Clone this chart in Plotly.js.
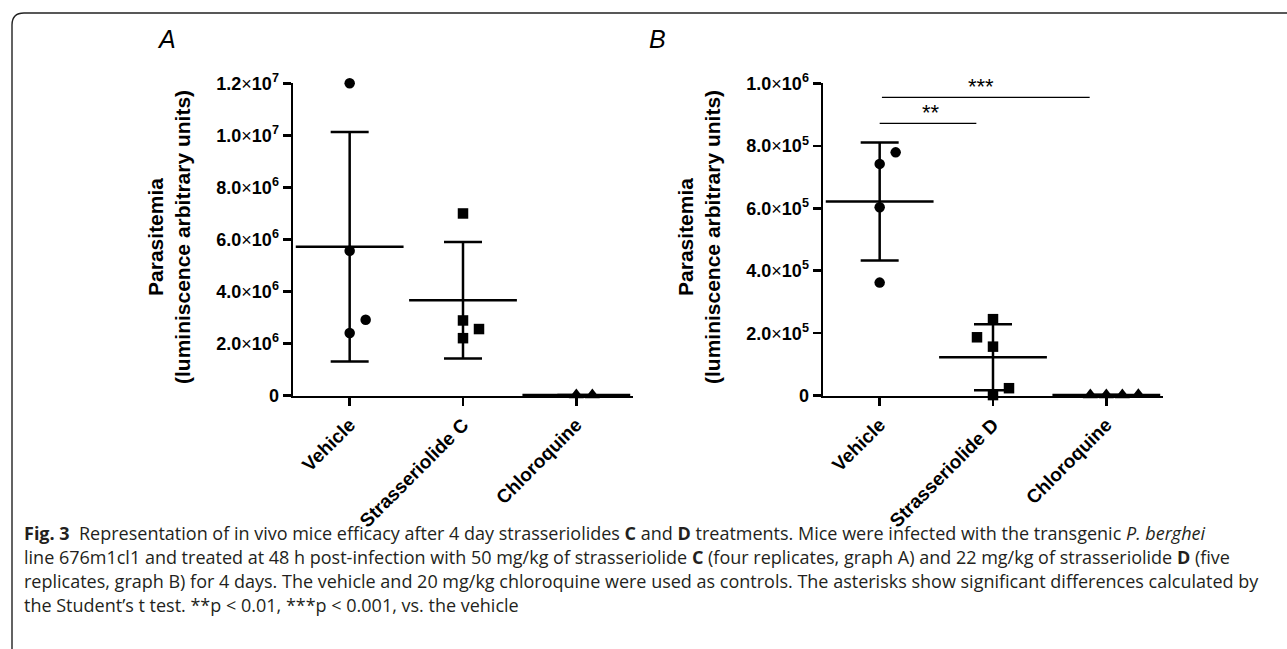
<!DOCTYPE html>
<html><head><meta charset="utf-8">
<script src="https://cdn.plot.ly/plotly-3.0.1.min.js"></script>
<style>html,body{margin:0;padding:0;background:#fff}#chart{width:1287px;height:649px}</style>
</head><body><div id="chart"></div>
<script>
// ---------- data ----------
const categoriesA = ["Vehicle", "Strasseriolide C", "Chloroquine"];
const categoriesB = ["Vehicle", "Strasseriolide D", "Chloroquine"];
const vehicleA = [12.0e6, 5.57e6, 2.41e6, 2.92e6];
const strasseriolideC = [7.0e6, 2.89e6, 2.21e6, 2.56e6];
const chloroquineA = [30000, 25000];
const vehicleB = [0.779e6, 0.742e6, 0.603e6, 0.362e6];
const strasseriolideD = [0.245e6, 0.187e6, 0.157e6, 0.024e6, 0.002e6];
const chloroquineB = [2500, 2000, 3000, 2200];
const X = '<span style="font-weight:normal">×</span>';
const yTickValsA = [0, 2e6, 4e6, 6e6, 8e6, 10e6, 12e6];
const yTickTextA = ["0", "2.0" + X + "10<sup>6</sup>", "4.0" + X + "10<sup>6</sup>", "6.0" + X + "10<sup>6</sup>", "8.0" + X + "10<sup>6</sup>", "1.0" + X + "10<sup>7</sup>", "1.2" + X + "10<sup>7</sup>"];
const yTickValsB = [0, 2e5, 4e5, 6e5, 8e5, 1e6];
const yTickTextB = ["0", "2.0" + X + "10<sup>5</sup>", "4.0" + X + "10<sup>5</sup>", "6.0" + X + "10<sup>5</sup>", "8.0" + X + "10<sup>5</sup>", "1.0" + X + "10<sup>6</sup>"];
const yTitleLines = ["Parasitemia", "(luminiscence arbitrary units)"];
const panelLabels = ["A", "B"];
const significanceLabels = ["**", "***"];
const captionLines = [
  "<b>Fig. 3</b>\u00a0\u00a0Representation of in vivo mice efficacy after 4 day strasseriolides <b>C</b> and <b>D</b> treatments. Mice were infected with the transgenic <i>P. berghei</i>",
  "line 676m1cl1 and treated at 48 h post-infection with 50 mg/kg of strasseriolide <b>C</b> (four replicates, graph A) and 22 mg/kg of strasseriolide <b>D</b> (five",
  "replicates, graph B) for 4 days. The vehicle and 20 mg/kg chloroquine were used as controls. The asterisks show significant differences calculated by",
  "the Student\u2019s t test. **p &lt; 0.01, ***p &lt; 0.001, vs. the vehicle"
];

// ---------- layout helpers ----------
const W = 1287, H = 649;
const px = v => v / W;
const py = v => 1 - v / H;
const plotTop = 83.3, plotBottom = 395.7, plotH = plotBottom - plotTop;
const catPx = 113.3;           // pixels per category
const stepCat = 16 / catPx;    // horizontal displacement for overlapping points
const thresholdPx = 15;

function swarm(values, pxPerUnit) {
  const idx = values.map((v, i) => i).sort((a, b) => values[a] - values[b]);
  const slots = new Array(values.length).fill(0);
  const placed = [];
  let preferRight = true;
  idx.forEach(i => {
    const conflicts = s => placed.some(p => p.slot === s && Math.abs(values[p.i] - values[i]) * pxPerUnit < thresholdPx);
    if (!conflicts(0)) { placed.push({ i, slot: 0 }); return; }
    for (let k = 1; k < 10; k++) {
      const order = preferRight ? [k, -k] : [-k, k];
      const s = order.find(o => !conflicts(o));
      if (s !== undefined) { slots[i] = s; placed.push({ i, slot: s }); preferRight = s < 0; break; }
    }
  });
  return slots;
}
const mean = a => a.reduce((s, v) => s + v, 0) / a.length;
const sd = a => { const m = mean(a); return Math.sqrt(a.reduce((s, v) => s + (v - m) * (v - m), 0) / (a.length - 1)); };

const traces = [];
function addGroup(values, catIdx, symbol, size, xa, ya, yMax) {
  traces.push({
    type: 'scatter', mode: 'markers', xaxis: xa, yaxis: ya, cliponaxis: false, hoverinfo: 'skip',
    x: [catIdx], y: [mean(values)],
    marker: { symbol: 'line-ew', size: 77, color: '#000', line: { color: '#000', width: 2.5 } },
    error_y: { type: 'data', array: [sd(values)], visible: true, color: '#000', thickness: 2.5, width: 19 }
  });
  const slots = swarm(values, plotH / yMax);
  traces.push({
    type: 'scatter', mode: 'markers', xaxis: xa, yaxis: ya, cliponaxis: false, hoverinfo: 'skip',
    x: slots.map(s => catIdx + s * stepCat), y: values,
    marker: { symbol: symbol, size: size, color: '#000', line: { width: 0 } }
  });
}
addGroup(vehicleA, 0, 'circle', 10.5, 'x', 'y', 12e6);
addGroup(strasseriolideC, 1, 'square', 10.5, 'x', 'y', 12e6);
addGroup(chloroquineA, 2, 'triangle-up', 13, 'x', 'y', 12e6);
addGroup(vehicleB, 0, 'circle', 10.5, 'x2', 'y2', 1e6);
addGroup(strasseriolideD, 1, 'square', 10.5, 'x2', 'y2', 1e6);
addGroup(chloroquineB, 2, 'triangle-up', 13, 'x2', 'y2', 1e6);

const fam = 'Liberation Sans, Arial, sans-serif';
const xBase = {
  range: [-0.5, 2.5], tickvals: [0, 1, 2], tickangle: -45,
  showline: true, linewidth: 2.5, linecolor: '#000', ticks: 'outside', ticklen: 8, tickwidth: 2.5, tickcolor: '#000',
  showgrid: false, zeroline: false, fixedrange: true, automargin: false, layer: 'below traces',
  tickfont: { family: fam, size: 19, weight: 'bold', color: '#000' }
};
const yBase = {
  domain: [py(plotBottom), py(plotTop)],
  showline: true, linewidth: 2.5, linecolor: '#000', ticks: 'outside', ticklen: 8, tickwidth: 2.5, tickcolor: '#000',
  showgrid: false, zeroline: false, fixedrange: true, automargin: false, layer: 'below traces',
  tickfont: { family: fam, size: 18, weight: 'bold', color: '#000' }
};

const annotations = [];
const yTitle = yTitleLines.join('<br>');
[169, 699].forEach(xc => annotations.push({
  xref: 'paper', yref: 'paper', x: px(xc), y: py(237), text: yTitle, textangle: -90, showarrow: false,
  xanchor: 'center', yanchor: 'middle', font: { family: fam, size: 21, weight: 'bold', color: '#000' }
}));
[[166, 39], [657, 39]].forEach((p, i) => annotations.push({
  xref: 'paper', yref: 'paper', x: px(p[0]), y: py(p[1]), text: panelLabels[i], showarrow: false,
  xanchor: 'center', yanchor: 'middle', font: { family: fam, size: 25, style: 'italic', color: '#000' }
}));
const sigPos = [{ x0: 0, x1: 0.853, y: 0.872e6, xt: 0.457 }, { x0: 0.02, x1: 1.853, y: 0.955e6, xt: 0.891 }];
const shapes = [];
sigPos.forEach((s, i) => {
  shapes.push({ type: 'line', xref: 'x2', yref: 'y2', x0: s.x0, x1: s.x1, y0: s.y, y1: s.y, line: { color: '#000', width: 1.3 } });
  annotations.push({ xref: 'x2', yref: 'y2', x: s.xt, y: s.y, text: significanceLabels[i], showarrow: false,
    xanchor: 'center', yanchor: 'bottom', yshift: -4, font: { family: fam, size: 22, color: '#000' } });
});
[533, 557, 581, 605].forEach((yy, i) => annotations.push({
  xref: 'paper', yref: 'paper', x: px(22), y: py(yy), text: captionLines[i], showarrow: false,
  xanchor: 'left', yanchor: 'middle', align: 'left', font: { family: 'Open Sans, sans-serif', size: 18, color: '#231f20' }
}));
// figure frame (rounded top-left corner)
shapes.push({ type: 'path', xref: 'paper', yref: 'paper', line: { color: '#222', width: 1.4 },
  path: `M ${px(12)},${py(649)} L ${px(12)},${py(25)} Q ${px(12)},${py(13)} ${px(24)},${py(13)} L ${px(1287)},${py(13)}` });

const layout = {
  width: W, height: H, margin: { l: 0, r: 0, t: 0, b: 0 }, showlegend: false,
  paper_bgcolor: '#fff', plot_bgcolor: '#fff', font: { family: fam, color: '#000' },
  xaxis: Object.assign({}, xBase, { domain: [px(293), px(633)], ticktext: categoriesA, anchor: 'y' }),
  yaxis: Object.assign({}, yBase, { range: [0, 12e6], tickvals: yTickValsA, ticktext: yTickTextA, anchor: 'x' }),
  xaxis2: Object.assign({}, xBase, { domain: [px(823), px(1163)], ticktext: categoriesB, anchor: 'y2' }),
  yaxis2: Object.assign({}, yBase, { range: [0, 1e6], tickvals: yTickValsB, ticktext: yTickTextB, anchor: 'x2' }),
  annotations: annotations, shapes: shapes
};
Plotly.newPlot('chart', traces, layout, { staticPlot: true, displayModeBar: false });
</script></body></html>
